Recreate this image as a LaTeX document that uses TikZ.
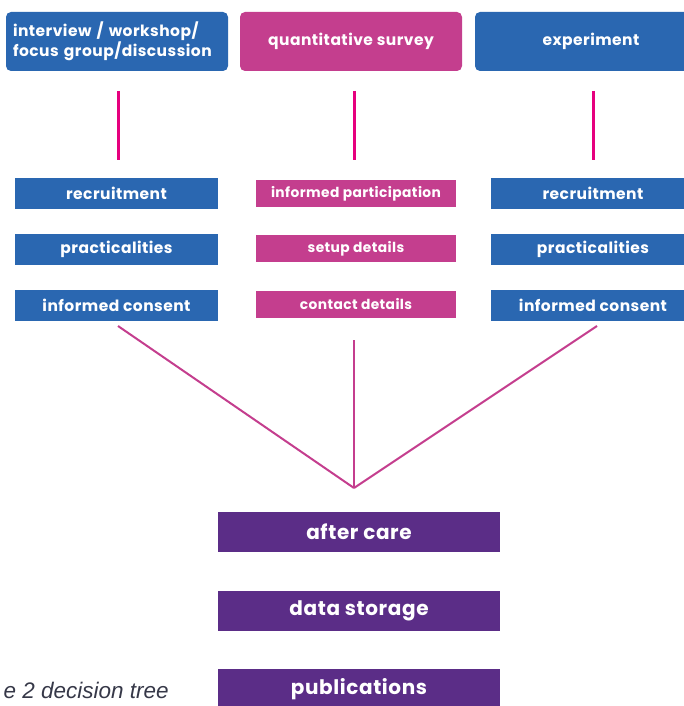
\documentclass[tikz,border=0pt]{standalone}
\usepackage{fontspec}
\setmainfont{Poppins}
\newfontfamily\pop[LetterSpace=3]{Poppins}
\newfontfamily\capfont{Liberation Sans}
\definecolor{cblue}{HTML}{2A67B1}
\definecolor{cmag}{HTML}{C43E8E}
\definecolor{cpurp}{HTML}{5B2D87}
\definecolor{cpink}{HTML}{E6007E}
\definecolor{ccap}{HTML}{363848}
\begin{document}
\begin{tikzpicture}[x=1pt,y=-1pt,
  topbox/.style={rounded corners=5pt,minimum height=59pt,inner sep=0pt,text=white,font=\pop\bfseries\fontsize{15.5}{17}\selectfont},
  midbox/.style={minimum height=31pt,inner sep=0pt,text=white,font=\pop\bfseries\fontsize{15.5}{17.5}\selectfont},
  cenbox/.style={fill=cmag,minimum width=200pt,minimum height=27pt,inner sep=0pt,text=white,font=\pop\bfseries\fontsize{13.8}{16}\selectfont},
  botbox/.style={fill=cpurp,minimum width=282pt,minimum height=40pt,inner sep=0pt,text=white,font=\pop\bfseries\fontsize{20}{24}\selectfont},
  pinkline/.style={draw=cpink,line width=3pt},
  vline/.style={draw=cmag,line width=2pt}]
\useasboundingbox (0,0) rectangle (683,706);
% top boxes
\node[topbox,fill=cblue,minimum width=222pt,text width=208pt,align=left] (t1) at (117,41.5) {interview / workshop/\\focus group/discussion};
\node[topbox,fill=cmag,minimum width=222pt] (t2) at (351,41.5) {quantitative survey};
\node[topbox,fill=cblue,minimum width=232pt] (t3) at (591,41.5) {experiment};
% short pink lines
\coordinate (a1) at (118,91); \coordinate (b1) at (118,160);
\coordinate (a2) at (354,91); \coordinate (b2) at (354,160);
\coordinate (a3) at (593,91); \coordinate (b3) at (593,160);
\draw[pinkline] (a1) -- (b1);
\draw[pinkline] (a2) -- (b2);
\draw[pinkline] (a3) -- (b3);
% left column
\node[midbox,fill=cblue,minimum width=203pt] (l1) at (116.5,193.5) {recruitment};
\node[midbox,fill=cblue,minimum width=203pt] (l2) at (116.5,249.5) {practicalities};
\node[midbox,fill=cblue,minimum width=203pt] (l3) at (116.5,305.5) {informed consent};
% centre column
\node[cenbox] (c1) at (356,193.5) {informed participation};
\node[cenbox] (c2) at (356,248.5) {setup details};
\node[cenbox] (c3) at (356,304.5) {contact details};
% right column
\node[midbox,fill=cblue,minimum width=204pt] (r1) at (593,193.5) {recruitment};
\node[midbox,fill=cblue,minimum width=204pt] (r2) at (593,249.5) {practicalities};
\node[midbox,fill=cblue,minimum width=204pt] (r3) at (593,305.5) {informed consent};
% converging lines
\coordinate (s1) at (118,326);
\coordinate (s2) at (354,340);
\coordinate (s3) at (597,326);
\coordinate (join) at (354,488);
\draw[vline] (s1) -- (join);
\draw[vline] (s2) -- (join);
\draw[vline] (s3) -- (join);
% bottom boxes
\node[botbox] (p1) at (359,532) {after care};
\node[botbox] (p2) at (359,611) {data storage};
\node[botbox] (p3) at (359,689) {publications};
% caption
\node[anchor=base east,inner sep=0pt,text=ccap,font=\capfont\itshape\fontsize{22.5}{26}\selectfont] (cap) at (169,698) {e 2 decision tree};
\end{tikzpicture}
\end{document}
